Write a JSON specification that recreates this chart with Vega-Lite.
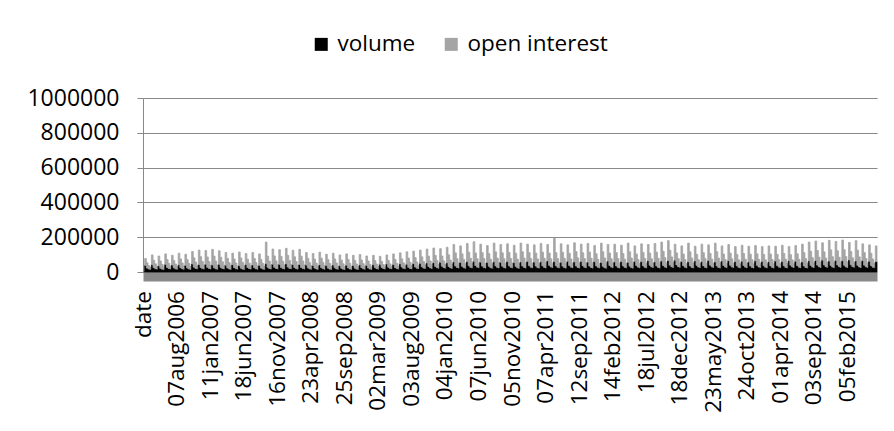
{
"$schema":"https://vega.github.io/schema/vega-lite/v6.json",
"width":734,"height":174,
"autosize":{"type":"none"},
"padding":{"left":143,"top":98,"right":17,"bottom":159},
"background":"white",
"config":{"view":{"stroke":null},"font":"Open Sans"},
"data":{"values":[
{"d":"date","v":0,"o":0},
{"d":"27mar2006","v":38000,"o":40000},{"d":"03apr2006","v":22800,"o":30000},{"d":"10apr2006","v":17100,"o":20000},{"d":"17apr2006","v":15200,"o":10800},
{"d":"24apr2006","v":42000,"o":56000},{"d":"01may2006","v":25200,"o":42000},{"d":"08may2006","v":18900,"o":28000},{"d":"15may2006","v":16800,"o":15100},
{"d":"22may2006","v":36000,"o":56000},{"d":"29may2006","v":21600,"o":42000},{"d":"05jun2006","v":16200,"o":28000},{"d":"12jun2006","v":14400,"o":15100},
{"d":"19jun2006","v":44000,"o":60000},{"d":"26jun2006","v":26400,"o":45000},{"d":"03jul2006","v":19800,"o":30000},{"d":"10jul2006","v":17600,"o":16200},
{"d":"17jul2006","v":40000,"o":56000},{"d":"24jul2006","v":24000,"o":42000},{"d":"31jul2006","v":18000,"o":28000},{"d":"07aug2006","v":16000,"o":15100},
{"d":"14aug2006","v":41000,"o":67000},{"d":"21aug2006","v":24600,"o":50300},{"d":"28aug2006","v":18500,"o":33500},{"d":"04sep2006","v":16400,"o":18100},
{"d":"11sep2006","v":38000,"o":64000},{"d":"18sep2006","v":22800,"o":48000},{"d":"25sep2006","v":17100,"o":32000},{"d":"02oct2006","v":15200,"o":17300},
{"d":"09oct2006","v":46000,"o":72000},{"d":"16oct2006","v":27600,"o":54000},{"d":"23oct2006","v":20700,"o":36000},{"d":"30oct2006","v":18400,"o":19400},
{"d":"06nov2006","v":43000,"o":83000},{"d":"13nov2006","v":25800,"o":62300},{"d":"20nov2006","v":19400,"o":41500},{"d":"27nov2006","v":17200,"o":22400},
{"d":"04dec2006","v":45000,"o":79000},{"d":"11dec2006","v":27000,"o":59300},{"d":"18dec2006","v":20300,"o":39500},{"d":"11jan2007","v":18000,"o":21300},
{"d":"18jan2007","v":40000,"o":90000},{"d":"25jan2007","v":24000,"o":67500},{"d":"01feb2007","v":18000,"o":45000},{"d":"08feb2007","v":16000,"o":24300},
{"d":"15feb2007","v":44000,"o":78000},{"d":"22feb2007","v":26400,"o":58500},{"d":"01mar2007","v":19800,"o":39000},{"d":"08mar2007","v":17600,"o":21100},
{"d":"15mar2007","v":39000,"o":73000},{"d":"22mar2007","v":23400,"o":54800},{"d":"29mar2007","v":17600,"o":36500},{"d":"05apr2007","v":15600,"o":19700},
{"d":"12apr2007","v":42000,"o":66000},{"d":"19apr2007","v":25200,"o":49500},{"d":"26apr2007","v":18900,"o":33000},{"d":"03may2007","v":16800,"o":17800},
{"d":"10may2007","v":37000,"o":78000},{"d":"17may2007","v":22200,"o":58500},{"d":"24may2007","v":16700,"o":39000},{"d":"18jun2007","v":14800,"o":21100},
{"d":"25jun2007","v":43000,"o":63000},{"d":"02jul2007","v":25800,"o":47300},{"d":"09jul2007","v":19400,"o":31500},{"d":"16jul2007","v":17200,"o":17000},
{"d":"23jul2007","v":40000,"o":72000},{"d":"30jul2007","v":24000,"o":54000},{"d":"06aug2007","v":18000,"o":36000},{"d":"13aug2007","v":16000,"o":19400},
{"d":"20aug2007","v":38000,"o":66000},{"d":"27aug2007","v":22800,"o":49500},{"d":"03sep2007","v":17100,"o":33000},{"d":"10sep2007","v":15200,"o":17800},
{"d":"17sep2007","v":48000,"o":124000},{"d":"24sep2007","v":27000,"o":63800},{"d":"01oct2007","v":20000,"o":42500},{"d":"08oct2007","v":17800,"o":23000},
{"d":"15oct2007","v":45000,"o":87000},{"d":"22oct2007","v":27000,"o":65300},{"d":"29oct2007","v":20300,"o":43500},{"d":"16nov2007","v":18000,"o":23500},
{"d":"23nov2007","v":44000,"o":84000},{"d":"30nov2007","v":26400,"o":63000},{"d":"07dec2007","v":19800,"o":42000},{"d":"14dec2007","v":17600,"o":22700},
{"d":"21dec2007","v":47000,"o":89000},{"d":"28dec2007","v":28200,"o":66800},{"d":"04jan2008","v":21200,"o":44500},{"d":"11jan2008","v":18800,"o":24000},
{"d":"18jan2008","v":42000,"o":83000},{"d":"25jan2008","v":25200,"o":62300},{"d":"01feb2008","v":18900,"o":41500},{"d":"08feb2008","v":16800,"o":22400},
{"d":"15feb2008","v":43000,"o":87000},{"d":"22feb2008","v":25800,"o":65300},{"d":"29feb2008","v":19400,"o":43500},{"d":"07mar2008","v":17200,"o":23500},
{"d":"14mar2008","v":40000,"o":72000},{"d":"21mar2008","v":24000,"o":54000},{"d":"28mar2008","v":18000,"o":36000},{"d":"23apr2008","v":16000,"o":19400},
{"d":"30apr2008","v":38000,"o":68000},{"d":"07may2008","v":22800,"o":51000},{"d":"14may2008","v":17100,"o":34000},{"d":"21may2008","v":15200,"o":18400},
{"d":"28may2008","v":41000,"o":73000},{"d":"04jun2008","v":24600,"o":54800},{"d":"11jun2008","v":18500,"o":36500},{"d":"18jun2008","v":16400,"o":19700},
{"d":"25jun2008","v":37000,"o":65000},{"d":"02jul2008","v":22200,"o":48800},{"d":"09jul2008","v":16700,"o":32500},{"d":"16jul2008","v":14800,"o":17600},
{"d":"23jul2008","v":40000,"o":68000},{"d":"30jul2008","v":24000,"o":51000},{"d":"06aug2008","v":18000,"o":34000},{"d":"13aug2008","v":16000,"o":18400},
{"d":"20aug2008","v":36000,"o":62000},{"d":"27aug2008","v":21600,"o":46500},{"d":"03sep2008","v":16200,"o":31000},{"d":"25sep2008","v":14400,"o":16700},
{"d":"02oct2008","v":39000,"o":65000},{"d":"09oct2008","v":23400,"o":48800},{"d":"16oct2008","v":17600,"o":32500},{"d":"23oct2008","v":15600,"o":17600},
{"d":"30oct2008","v":37000,"o":59000},{"d":"06nov2008","v":22200,"o":44300},{"d":"13nov2008","v":16700,"o":29500},{"d":"20nov2008","v":14800,"o":15900},
{"d":"27nov2008","v":41000,"o":59000},{"d":"04dec2008","v":24600,"o":44300},{"d":"11dec2008","v":18500,"o":29500},{"d":"18dec2008","v":16400,"o":15900},
{"d":"25dec2008","v":38000,"o":54000},{"d":"01jan2009","v":22800,"o":40500},{"d":"08jan2009","v":17100,"o":27000},{"d":"15jan2009","v":15200,"o":14600},
{"d":"22jan2009","v":42000,"o":54000},{"d":"29jan2009","v":25200,"o":40500},{"d":"05feb2009","v":18900,"o":27000},{"d":"02mar2009","v":16800,"o":14600},
{"d":"09mar2009","v":44000,"o":46000},{"d":"16mar2009","v":26400,"o":34500},{"d":"23mar2009","v":19800,"o":23000},{"d":"30mar2009","v":17600,"o":12400},
{"d":"06apr2009","v":46000,"o":52000},{"d":"13apr2009","v":27600,"o":39000},{"d":"20apr2009","v":20700,"o":26000},{"d":"27apr2009","v":18400,"o":14000},
{"d":"04may2009","v":43000,"o":61000},{"d":"11may2009","v":25800,"o":45800},{"d":"18may2009","v":19400,"o":30500},{"d":"25may2009","v":17200,"o":16500},
{"d":"01jun2009","v":47000,"o":63000},{"d":"08jun2009","v":28200,"o":47300},{"d":"15jun2009","v":21200,"o":31500},{"d":"22jun2009","v":18800,"o":17000},
{"d":"29jun2009","v":45000,"o":71000},{"d":"06jul2009","v":27000,"o":53300},{"d":"13jul2009","v":20300,"o":35500},{"d":"03aug2009","v":18000,"o":19200},
{"d":"10aug2009","v":48000,"o":72000},{"d":"17aug2009","v":28800,"o":54000},{"d":"24aug2009","v":21600,"o":36000},{"d":"31aug2009","v":19200,"o":19400},
{"d":"07sep2009","v":50000,"o":76000},{"d":"14sep2009","v":30000,"o":57000},{"d":"21sep2009","v":22500,"o":38000},{"d":"28sep2009","v":20000,"o":20500},
{"d":"05oct2009","v":52000,"o":80000},{"d":"12oct2009","v":31200,"o":60000},{"d":"19oct2009","v":23400,"o":40000},{"d":"26oct2009","v":20800,"o":21600},
{"d":"02nov2009","v":54000,"o":84000},{"d":"09nov2009","v":32400,"o":63000},{"d":"16nov2009","v":24300,"o":42000},{"d":"23nov2009","v":21600,"o":22700},
{"d":"30nov2009","v":56000,"o":78000},{"d":"07dec2009","v":33600,"o":58500},{"d":"14dec2009","v":25200,"o":39000},{"d":"04jan2010","v":22400,"o":21100},
{"d":"11jan2010","v":53000,"o":89000},{"d":"18jan2010","v":31800,"o":66800},{"d":"25jan2010","v":23900,"o":44500},{"d":"01feb2010","v":21200,"o":24000},
{"d":"08feb2010","v":58000,"o":100000},{"d":"15feb2010","v":34800,"o":75000},{"d":"22feb2010","v":26100,"o":50000},{"d":"01mar2010","v":23200,"o":27000},
{"d":"08mar2010","v":55000,"o":95000},{"d":"15mar2010","v":33000,"o":71300},{"d":"22mar2010","v":24800,"o":47500},{"d":"29mar2010","v":22000,"o":25700},
{"d":"05apr2010","v":60000,"o":104000},{"d":"12apr2010","v":36000,"o":78000},{"d":"19apr2010","v":27000,"o":52000},{"d":"26apr2010","v":24000,"o":28100},
{"d":"03may2010","v":62000,"o":112000},{"d":"10may2010","v":37200,"o":72000},{"d":"17may2010","v":27900,"o":48000},{"d":"07jun2010","v":24800,"o":25900},
{"d":"14jun2010","v":57000,"o":103000},{"d":"21jun2010","v":34200,"o":77300},{"d":"28jun2010","v":25700,"o":51500},{"d":"05jul2010","v":22800,"o":27800},
{"d":"12jul2010","v":55000,"o":97000},{"d":"19jul2010","v":33000,"o":72800},{"d":"26jul2010","v":24800,"o":48500},{"d":"02aug2010","v":22000,"o":26200},
{"d":"09aug2010","v":59000,"o":107000},{"d":"16aug2010","v":35400,"o":80300},{"d":"23aug2010","v":26600,"o":53500},{"d":"30aug2010","v":23600,"o":28900},
{"d":"06sep2010","v":56000,"o":102000},{"d":"13sep2010","v":33600,"o":76500},{"d":"20sep2010","v":25200,"o":51000},{"d":"27sep2010","v":22400,"o":27500},
{"d":"04oct2010","v":60000,"o":102000},{"d":"11oct2010","v":36000,"o":76500},{"d":"18oct2010","v":27000,"o":51000},{"d":"05nov2010","v":24000,"o":27500},
{"d":"12nov2010","v":54000,"o":100000},{"d":"19nov2010","v":32400,"o":75000},{"d":"26nov2010","v":24300,"o":50000},{"d":"03dec2010","v":21600,"o":27000},
{"d":"10dec2010","v":58000,"o":108000},{"d":"17dec2010","v":34800,"o":81000},{"d":"24dec2010","v":26100,"o":54000},{"d":"31dec2010","v":23200,"o":29200},
{"d":"07jan2011","v":61000,"o":99000},{"d":"14jan2011","v":36600,"o":74300},{"d":"21jan2011","v":27500,"o":49500},{"d":"28jan2011","v":24400,"o":26700},
{"d":"04feb2011","v":57000,"o":99000},{"d":"11feb2011","v":34200,"o":74300},{"d":"18feb2011","v":25700,"o":49500},{"d":"25feb2011","v":22800,"o":26700},
{"d":"04mar2011","v":59000,"o":105000},{"d":"11mar2011","v":35400,"o":78800},{"d":"18mar2011","v":26600,"o":52500},{"d":"07apr2011","v":23600,"o":28400},
{"d":"14apr2011","v":64000,"o":94000},{"d":"21apr2011","v":38400,"o":70500},{"d":"28apr2011","v":28800,"o":47000},{"d":"05may2011","v":25600,"o":25400},
{"d":"12may2011","v":60000,"o":134000},{"d":"19may2011","v":36000,"o":75000},{"d":"26may2011","v":27000,"o":50000},{"d":"02jun2011","v":24000,"o":27000},
{"d":"09jun2011","v":56000,"o":106000},{"d":"16jun2011","v":33600,"o":79500},{"d":"23jun2011","v":25200,"o":53000},{"d":"30jun2011","v":22400,"o":28600},
{"d":"07jul2011","v":62000,"o":94000},{"d":"14jul2011","v":37200,"o":70500},{"d":"21jul2011","v":27900,"o":47000},{"d":"28jul2011","v":24800,"o":25400},
{"d":"04aug2011","v":58000,"o":110000},{"d":"11aug2011","v":34800,"o":82500},{"d":"18aug2011","v":26100,"o":55000},{"d":"12sep2011","v":23200,"o":29700},
{"d":"19sep2011","v":61000,"o":99000},{"d":"26sep2011","v":36600,"o":74300},{"d":"03oct2011","v":27500,"o":49500},{"d":"10oct2011","v":24400,"o":26700},
{"d":"17oct2011","v":57000,"o":107000},{"d":"24oct2011","v":34200,"o":80300},{"d":"31oct2011","v":25700,"o":53500},{"d":"07nov2011","v":22800,"o":28900},
{"d":"14nov2011","v":60000,"o":92000},{"d":"21nov2011","v":36000,"o":69000},{"d":"28nov2011","v":27000,"o":46000},{"d":"05dec2011","v":24000,"o":24800},
{"d":"12dec2011","v":55000,"o":111000},{"d":"19dec2011","v":33000,"o":83300},{"d":"26dec2011","v":24800,"o":55500},{"d":"02jan2012","v":22000,"o":30000},
{"d":"09jan2012","v":63000,"o":95000},{"d":"16jan2012","v":37800,"o":71300},{"d":"23jan2012","v":28400,"o":47500},{"d":"14feb2012","v":25200,"o":25700},
{"d":"21feb2012","v":58000,"o":102000},{"d":"28feb2012","v":34800,"o":76500},{"d":"06mar2012","v":26100,"o":51000},{"d":"13mar2012","v":23200,"o":27500},
{"d":"20mar2012","v":60000,"o":94000},{"d":"27mar2012","v":36000,"o":70500},{"d":"03apr2012","v":27000,"o":47000},{"d":"10apr2012","v":24000,"o":25400},
{"d":"17apr2012","v":56000,"o":110000},{"d":"24apr2012","v":33600,"o":82500},{"d":"01may2012","v":25200,"o":55000},{"d":"08may2012","v":22400,"o":29700},
{"d":"15may2012","v":62000,"o":88000},{"d":"22may2012","v":37200,"o":66000},{"d":"29may2012","v":27900,"o":44000},{"d":"05jun2012","v":24800,"o":23800},
{"d":"12jun2012","v":60000,"o":102000},{"d":"19jun2012","v":36000,"o":76500},{"d":"26jun2012","v":27000,"o":51000},{"d":"18jul2012","v":24000,"o":27500},
{"d":"25jul2012","v":65000,"o":93000},{"d":"01aug2012","v":39000,"o":69800},{"d":"08aug2012","v":29300,"o":46500},{"d":"15aug2012","v":26000,"o":25100},
{"d":"22aug2012","v":58000,"o":106000},{"d":"29aug2012","v":34800,"o":79500},{"d":"05sep2012","v":26100,"o":53000},{"d":"12sep2012","v":23200,"o":28600},
{"d":"19sep2012","v":63000,"o":109000},{"d":"26sep2012","v":37800,"o":81800},{"d":"03oct2012","v":28400,"o":54500},{"d":"10oct2012","v":25200,"o":29400},
{"d":"17oct2012","v":66000,"o":114000},{"d":"24oct2012","v":39600,"o":85500},{"d":"31oct2012","v":29700,"o":57000},{"d":"07nov2012","v":26400,"o":30800},
{"d":"14nov2012","v":68000,"o":92000},{"d":"21nov2012","v":40800,"o":69000},{"d":"28nov2012","v":30600,"o":46000},{"d":"18dec2012","v":27200,"o":24800},
{"d":"25dec2012","v":61000,"o":89000},{"d":"01jan2013","v":36600,"o":66800},{"d":"08jan2013","v":27500,"o":44500},{"d":"15jan2013","v":24400,"o":24000},
{"d":"22jan2013","v":59000,"o":107000},{"d":"29jan2013","v":35400,"o":80300},{"d":"05feb2013","v":26600,"o":53500},{"d":"12feb2013","v":23600,"o":28900},
{"d":"19feb2013","v":64000,"o":84000},{"d":"26feb2013","v":38400,"o":63000},{"d":"05mar2013","v":28800,"o":42000},{"d":"12mar2013","v":25600,"o":22700},
{"d":"19mar2013","v":60000,"o":100000},{"d":"26mar2013","v":36000,"o":75000},{"d":"02apr2013","v":27000,"o":50000},{"d":"09apr2013","v":24000,"o":27000},
{"d":"16apr2013","v":66000,"o":90000},{"d":"23apr2013","v":39600,"o":67500},{"d":"30apr2013","v":29700,"o":45000},{"d":"23may2013","v":26400,"o":24300},
{"d":"30may2013","v":58000,"o":108000},{"d":"06jun2013","v":34800,"o":81000},{"d":"13jun2013","v":26100,"o":54000},{"d":"20jun2013","v":23200,"o":29200},
{"d":"27jun2013","v":63000,"o":87000},{"d":"04jul2013","v":37800,"o":65300},{"d":"11jul2013","v":28400,"o":43500},{"d":"18jul2013","v":25200,"o":23500},
{"d":"25jul2013","v":65000,"o":93000},{"d":"01aug2013","v":39000,"o":69800},{"d":"08aug2013","v":29300,"o":46500},{"d":"15aug2013","v":26000,"o":25100},
{"d":"22aug2013","v":60000,"o":86000},{"d":"29aug2013","v":36000,"o":64500},{"d":"05sep2013","v":27000,"o":43000},{"d":"12sep2013","v":24000,"o":23200},
{"d":"19sep2013","v":62000,"o":92000},{"d":"26sep2013","v":37200,"o":69000},{"d":"03oct2013","v":27900,"o":46000},{"d":"24oct2013","v":24800,"o":24800},
{"d":"31oct2013","v":58000,"o":90000},{"d":"07nov2013","v":34800,"o":67500},{"d":"14nov2013","v":26100,"o":45000},{"d":"21nov2013","v":23200,"o":24300},
{"d":"28nov2013","v":64000,"o":88000},{"d":"05dec2013","v":38400,"o":66000},{"d":"12dec2013","v":28800,"o":44000},{"d":"19dec2013","v":25600,"o":23800},
{"d":"26dec2013","v":61000,"o":85000},{"d":"02jan2014","v":36600,"o":63800},{"d":"09jan2014","v":27500,"o":42500},{"d":"16jan2014","v":24400,"o":23000},
{"d":"23jan2014","v":59000,"o":91000},{"d":"30jan2014","v":35400,"o":68300},{"d":"06feb2014","v":26600,"o":45500},{"d":"13feb2014","v":23600,"o":24600},
{"d":"20feb2014","v":63000,"o":85000},{"d":"27feb2014","v":37800,"o":63800},{"d":"06mar2014","v":28400,"o":42500},{"d":"01apr2014","v":25200,"o":23000},
{"d":"08apr2014","v":60000,"o":94000},{"d":"15apr2014","v":36000,"o":70500},{"d":"22apr2014","v":27000,"o":47000},{"d":"29apr2014","v":24000,"o":25400},
{"d":"06may2014","v":65000,"o":81000},{"d":"13may2014","v":39000,"o":60800},{"d":"20may2014","v":29300,"o":40500},{"d":"27may2014","v":26000,"o":21900},
{"d":"03jun2014","v":62000,"o":90000},{"d":"10jun2014","v":37200,"o":67500},{"d":"17jun2014","v":27900,"o":45000},{"d":"24jun2014","v":24800,"o":24300},
{"d":"01jul2014","v":58000,"o":102000},{"d":"08jul2014","v":34800,"o":76500},{"d":"15jul2014","v":26100,"o":51000},{"d":"22jul2014","v":23200,"o":27500},
{"d":"29jul2014","v":64000,"o":108000},{"d":"05aug2014","v":38400,"o":81000},{"d":"12aug2014","v":28800,"o":54000},{"d":"03sep2014","v":25600,"o":29200},
{"d":"10sep2014","v":66000,"o":112000},{"d":"17sep2014","v":39600,"o":84000},{"d":"24sep2014","v":29700,"o":56000},{"d":"01oct2014","v":26400,"o":30200},
{"d":"08oct2014","v":68000,"o":100000},{"d":"15oct2014","v":40800,"o":75000},{"d":"22oct2014","v":30600,"o":50000},{"d":"29oct2014","v":27200,"o":27000},
{"d":"05nov2014","v":63000,"o":119000},{"d":"12nov2014","v":37800,"o":89300},{"d":"19nov2014","v":28400,"o":59500},{"d":"26nov2014","v":25200,"o":32100},
{"d":"03dec2014","v":67000,"o":109000},{"d":"10dec2014","v":40200,"o":81800},{"d":"17dec2014","v":30200,"o":54500},{"d":"24dec2014","v":26800,"o":29400},
{"d":"31dec2014","v":65000,"o":119000},{"d":"07jan2015","v":39000,"o":89300},{"d":"14jan2015","v":29300,"o":59500},{"d":"05feb2015","v":26000,"o":32100},
{"d":"12feb2015","v":69000,"o":101000},{"d":"19feb2015","v":41400,"o":75800},{"d":"26feb2015","v":31100,"o":50500},{"d":"05mar2015","v":27600,"o":27300},
{"d":"12mar2015","v":64000,"o":116000},{"d":"19mar2015","v":38400,"o":87000},{"d":"26mar2015","v":28800,"o":58000},{"d":"02apr2015","v":25600,"o":31300},
{"d":"09apr2015","v":66000,"o":96000},{"d":"16apr2015","v":39600,"o":72000},{"d":"23apr2015","v":29700,"o":48000},{"d":"30apr2015","v":26400,"o":25900},
{"d":"07may2015","v":62000,"o":94000},{"d":"14may2015","v":37200,"o":70500},{"d":"21may2015","v":27900,"o":47000},{"d":"28may2015","v":24800,"o":25400},
{"d":"04jun2015","v":60000,"o":90000}
]},
"transform":[{"fold":["v","o"],"as":["key","value"]}],
"mark":{"type":"bar","strokeWidth":0.8},
"encoding":{
"x":{"field":"d","type":"ordinal","sort":null,
"scale":{"paddingInner":0,"paddingOuter":0},
"axis":{"title":null,"values":["date","07aug2006","11jan2007","18jun2007","16nov2007","23apr2008","25sep2008","02mar2009","03aug2009","04jan2010","07jun2010","05nov2010","07apr2011","12sep2011","14feb2012","18jul2012","18dec2012","23may2013","24oct2013","01apr2014","03sep2014","05feb2015"],
"labelAngle":-90,"labelOverlap":false,"ticks":false,"domainColor":"#898989","domainWidth":9,"offset":4.5,"labelPadding":14,"labelFont":"Open Sans","labelFontSize":22.5,"labelColor":"#000000","grid":false}},
"y":{"field":"value","type":"quantitative","stack":"zero",
"scale":{"domain":[0,1000000],"nice":false},
"axis":{"title":null,"values":[0,200000,400000,600000,800000,1000000],"format":"d","grid":true,"gridColor":"#898989","gridWidth":1,"domainColor":"#898989","tickColor":"#898989","tickSize":6,"labelPadding":18,"labelFont":"Open Sans","labelFontSize":23,"labelColor":"#000000"}},
"color":{"field":"key","type":"nominal",
"scale":{"domain":["v","o"],"range":["#000000","#a5a5a5"]},
"legend":{"title":null,"orient":"none","legendX":167,"legendY":-65,"direction":"horizontal","symbolType":"square","symbolSize":169,"symbolStrokeWidth":0,"labelFont":"Open Sans","labelFontSize":22.5,"labelColor":"#000000","labelOffset":5,"columnPadding":24,
"labelExpr":"datum.label == 'v' ? 'volume' : 'open interest'"}},
"stroke":{"field":"key","type":"nominal","scale":{"domain":["v","o"],"range":["#000000","#a5a5a5"]},"legend":null},
"order":{"field":"key","sort":"descending"}
}
}
